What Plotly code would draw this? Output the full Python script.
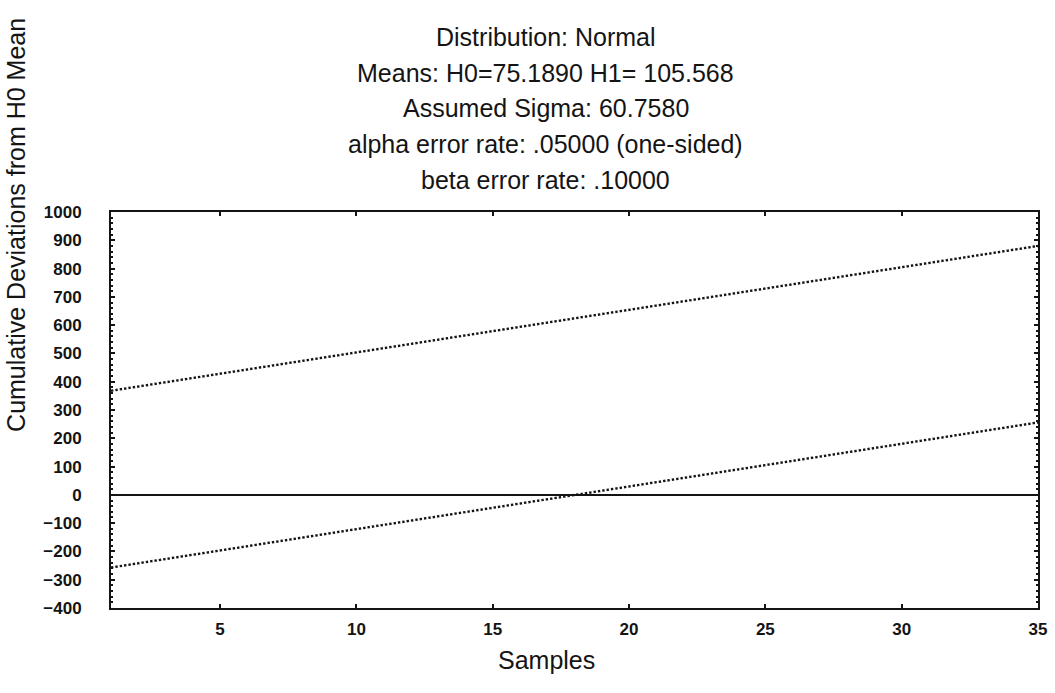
import plotly.graph_objects as go

# Sequential test decision boundaries (cumulative deviation from H0 mean)
samples = [1, 35]
upper_limit = [368, 880]
lower_limit = [-257, 256]

x_ticks = [5, 10, 15, 20, 25, 30, 35]
y_ticks = [-400, -300, -200, -100, 0, 100, 200, 300, 400, 500, 600, 700, 800, 900, 1000]

title_lines = [
    "Distribution: Normal",
    "Means: H0=75.1890 H1= 105.568",
    "Assumed Sigma: 60.7580",
    "alpha error rate: .05000 (one-sided)",
    "beta error rate: .10000",
]
x_title = "Samples"
y_title = "Cumulative Deviations from H0 Mean"

W, H = 1055, 693
L, R, T, B = 111, 8, 212, 85
plot_w = W - L - R
plot_h = H - T - B

FONT = "Liberation Sans, Arial, sans-serif"
INK = "#141414"


def px_x(px):
    return (px - L) / plot_w


def px_y(py):
    return (H - B - py) / plot_h


fig = go.Figure()
dot = "2.4px,2px"
fig.add_trace(go.Scatter(x=samples, y=upper_limit, mode="lines",
                         line=dict(color=INK, width=2.4, dash=dot),
                         hoverinfo="skip", showlegend=False))
fig.add_trace(go.Scatter(x=samples, y=lower_limit, mode="lines",
                         line=dict(color=INK, width=2.4, dash=dot),
                         hoverinfo="skip", showlegend=False))

annotations = []
line_y = [37.5, 73, 108.5, 144, 179.5]
for text, yy in zip(title_lines, line_y):
    annotations.append(dict(text=text, xref="paper", yref="paper",
                            x=px_x(550), y=px_y(yy), xanchor="center", yanchor="middle",
                            showarrow=False, font=dict(family=FONT, size=25, color=INK)))
annotations.append(dict(text=x_title, xref="paper", yref="paper",
                        x=px_x(551), y=px_y(660), xanchor="center", yanchor="middle",
                        showarrow=False, font=dict(family=FONT, size=25, color=INK)))
annotations.append(dict(text=y_title, xref="paper", yref="paper", textangle=-90,
                        x=px_x(15), y=px_y(225), xanchor="center", yanchor="middle",
                        showarrow=False, font=dict(family=FONT, size=25, color=INK)))

tickfont = dict(family=FONT, size=17, color=INK, weight="bold")

fig.update_layout(
    width=W, height=H,
    margin=dict(l=L, r=R, t=T, b=B, pad=0),
    paper_bgcolor="white", plot_bgcolor="white",
    annotations=annotations,
    xaxis=dict(range=[1, 35], tickvals=x_ticks, ticks="inside", ticklen=4,
               tickcolor=INK, tickwidth=1.5, showline=True, linecolor=INK, linewidth=2,
               mirror="ticks", showgrid=False, zeroline=False, tickfont=tickfont,
               ticklabelstandoff=5),
    yaxis=dict(range=[-400, 1000], tickvals=y_ticks, ticks="inside", ticklen=4,
               tickcolor=INK, tickwidth=1.5, showline=True, linecolor=INK, linewidth=2,
               mirror="ticks", showgrid=False, zeroline=True, zerolinecolor=INK,
               zerolinewidth=2, tickfont=tickfont, ticklabelstandoff=24,
               minor=dict(dtick=20, ticks="inside", ticklen=2, tickcolor=INK, showgrid=False)),
)

fig.write_html("out.html")
